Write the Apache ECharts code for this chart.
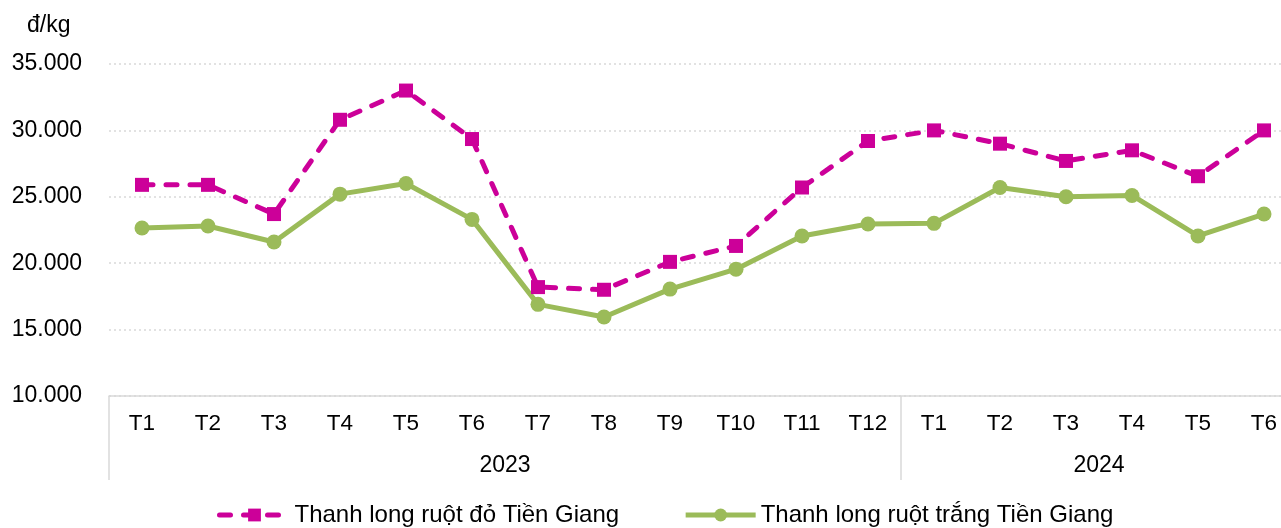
<!DOCTYPE html>
<html>
<head>
<meta charset="utf-8">
<script src="https://cdn.jsdelivr.net/npm/echarts@6/dist/echarts.min.js"></script>
<style>
  html, body { margin: 0; padding: 0; background: #fff; }
  #chart { width: 1281px; height: 528px; }
</style>
</head>
<body>
<div id="chart"></div>
<script>
// tháng theo năm
const months = ['T1', 'T2', 'T3', 'T4', 'T5', 'T6', 'T7', 'T8', 'T9', 'T10', 'T11', 'T12',
  'T1', 'T2', 'T3', 'T4', 'T5', 'T6'];
const years = ['2023', '2024'];
const monthsPerYear = [12, 6];

const redName = 'Thanh long ruột đỏ Tiền Giang';
const whiteName = 'Thanh long ruột trắng Tiền Giang';
const redPrice = [25900, 25900, 23700, 30800, 33000, 29350, 18200, 18000, 20100, 21300, 25700, 29200,
  30000, 29000, 27700, 28500, 26550, 30000];
const whitePrice = [22650, 22800, 21600, 25200, 26000, 23300, 16900, 15950, 18050, 19550, 22050, 22950,
  23000, 25700, 25000, 25100, 22050, 23700];

const yTicks = [10000, 15000, 20000, 25000, 30000, 35000];

// ranh giới và vị trí giữa của từng năm
const yearBounds = [0];
const yearMids = [];
monthsPerYear.forEach((n, i) => {
  yearMids.push(yearBounds[i] + n / 2);
  yearBounds.push(yearBounds[i] + n);
});

const fmt = (v) => String(v).replace(/\B(?=(\d{3})+(?!\d))/g, '.');
const font = 'Liberation Sans, Arial, sans-serif';
const gray = '#d9d9d9';

const chart = echarts.init(document.getElementById('chart'));

chart.setOption({
  animation: false,
  textStyle: { fontFamily: font },
  title: {
    text: 'đ/kg',
    left: 22,
    top: 9,
    textStyle: { fontFamily: font, fontSize: 23, fontWeight: 'normal', color: '#000' },
  },
  legend: {
    top: 498,
    left: 212,
    itemWidth: 70,
    itemHeight: 16,
    itemGap: 64,
    lineStyle: { width: 5 },
    textStyle: { fontFamily: font, fontSize: 24, color: '#000' },
    data: [redName, whiteName],
  },
  grid: { left: 109, top: 64, width: 1188, height: 332, outerBoundsMode: 'none' },
  xAxis: [
    {
      type: 'category',
      data: months,
      boundaryGap: true,
      axisLine: { lineStyle: { color: gray, width: 1.5 } },
      axisTick: { show: false },
      axisLabel: { margin: 16, fontSize: 22.5, color: '#000', interval: 0 },
    },
    {
      type: 'value',
      position: 'bottom',
      min: 0,
      max: yearBounds[yearBounds.length - 1],
      splitLine: { show: false },
      axisLine: { show: false },
      axisTick: {
        show: true,
        length: 84,
        customValues: yearBounds,
        lineStyle: { color: gray, width: 1.5 },
      },
      axisLabel: {
        margin: 58,
        fontSize: 23,
        color: '#000',
        customValues: yearMids,
        formatter: (v) => years[yearMids.indexOf(v)] || '',
      },
    },
  ],
  yAxis: {
    type: 'value',
    min: yTicks[0],
    max: yTicks[yTicks.length - 1],
    interval: 5000,
    axisLine: { show: false },
    axisTick: { show: false },
    axisLabel: { margin: 27, fontSize: 23, color: '#000', formatter: fmt },
    splitLine: { lineStyle: { color: gray, type: [2, 3], width: 1.5 } },
  },
  series: [
    {
      name: redName,
      type: 'line',
      data: redPrice,
      xAxisIndex: 0,
      symbol: 'rect',
      symbolSize: 14,
      smooth: false,
      itemStyle: { color: '#cc0099' },
      lineStyle: { color: '#cc0099', width: 5, type: [11, 13], cap: 'round' },
      z: 3,
    },
    {
      name: whiteName,
      type: 'line',
      data: whitePrice,
      xAxisIndex: 0,
      symbol: 'circle',
      symbolSize: 15,
      smooth: false,
      itemStyle: { color: '#9bbb59' },
      lineStyle: { color: '#9bbb59', width: 5 },
      z: 2,
    },
  ],
});
</script>
</body>
</html>
